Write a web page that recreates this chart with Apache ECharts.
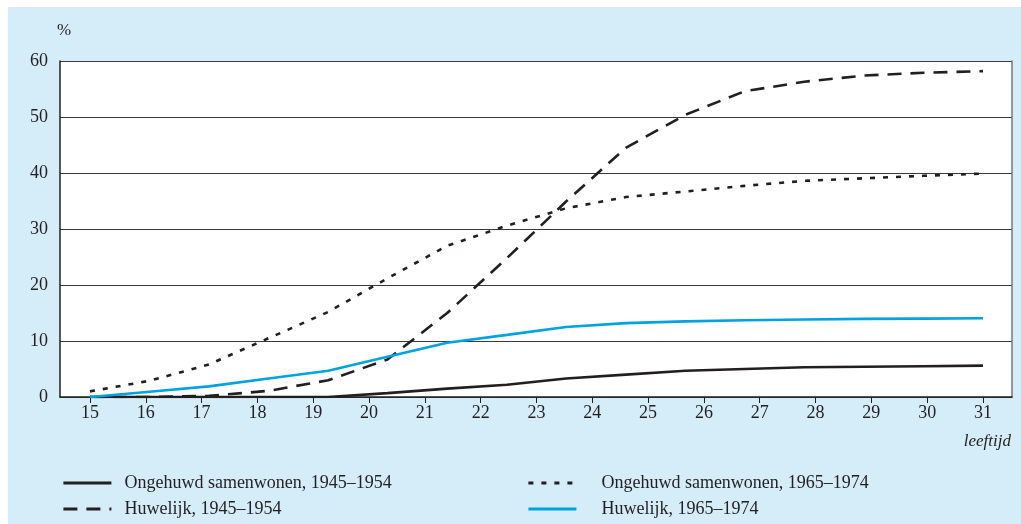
<!DOCTYPE html>
<html>
<head>
<meta charset="utf-8">
<script src="https://cdn.jsdelivr.net/npm/echarts@6/dist/echarts.min.js"></script>
<style>
  html, body { margin: 0; padding: 0; background: #fff; }
  #chart { width: 1021px; height: 524px; }
</style>
</head>
<body>
<div id="chart"></div>
<script>
// leeftijd (age) at which each value was read
const ages = [15, 16.07, 17.13, 18.2, 19.27, 20.33, 21.4, 22.47, 23.53, 24.6, 25.67, 26.73, 27.8, 28.87, 29.93, 31];
const xTicks = [15, 16, 17, 18, 19, 20, 21, 22, 23, 24, 25, 26, 27, 28, 29, 30, 31];

const samenwonen4554 = [0, 0, 0, 0, 0, 0.7, 1.5, 2.2, 3.3, 4.0, 4.7, 5.0, 5.3, 5.4, 5.5, 5.6];
const huwelijk4554 = [0, 0, 0.2, 1.1, 3.0, 6.7, 15.0, 24.8, 34.9, 44.5, 50.4, 54.6, 56.3, 57.4, 57.9, 58.2];
const samenwonen6574 = [1.0, 2.9, 5.8, 10.5, 15.2, 21.2, 27.0, 30.6, 33.7, 35.7, 36.7, 37.7, 38.6, 39.05, 39.5, 39.9];
const huwelijk6574 = [0, 0.95, 1.9, 3.3, 4.7, 7.2, 9.7, 11.1, 12.5, 13.2, 13.5, 13.7, 13.85, 13.95, 14.0, 14.05];

const names = [
  'Ongehuwd samenwonen, 1945–1954',
  'Huwelijk, 1945–1954',
  'Ongehuwd samenwonen, 1965–1974',
  'Huwelijk, 1965–1974',
];

const ink = '#231f20';
const blue = '#00a3e0';
const font = '"Liberation Serif", "DejaVu Serif", serif';

const pairs = (vals) => ages.map((a, i) => [a, vals[i]]);

const chart = echarts.init(document.getElementById('chart'));

const mkLine = (name, vals, color, type) => ({
  name: name,
  type: 'line',
  showSymbol: false,
  symbol: 'none',
  silent: true,
  lineStyle: { color: color, width: 2.6, type: type, cap: 'butt' },
  itemStyle: { color: color },
  data: pairs(vals),
});

// one legend per entry so each can sit where the original puts it
const mkLegend = (name, left, top, gap) => ({
  left: left,
  top: top,
  padding: 0,
  itemWidth: 48,
  itemHeight: 18,
  selectedMode: false,
  itemStyle: { opacity: 0, borderWidth: 0 },
  lineStyle: { width: 2.8 },
  textStyle: { fontFamily: font, fontSize: 18, color: ink, padding: [0, 0, 0, gap] },
  data: [name],
});

chart.setOption({
  animation: false,
  backgroundColor: '#fff',
  textStyle: { fontFamily: font },
  graphic: [
    {
      type: 'rect',
      z: -10,
      shape: { x: 8, y: 7, width: 1013, height: 517 },
      style: { fill: '#d5ecf9' },
    },
    {
      type: 'text',
      left: 57,
      top: 22,
      style: { text: '%', fill: ink, font: '17px ' + font },
    },
    {
      type: 'text',
      right: 10,
      top: 433,
      style: { text: 'leeftijd', fill: ink, font: 'italic 17px ' + font },
    },
  ],
  grid: {
    left: 60,
    top: 61,
    right: 9,
    bottom: 127,
    show: true,
    backgroundColor: '#fff',
    borderWidth: 0,
  },
  legend: [
    mkLegend(names[0], 62, 474, 8),
    mkLegend(names[1], 62, 500, 8),
    mkLegend(names[2], 527, 474, 20),
    mkLegend(names[3], 527, 500, 20),
  ],
  xAxis: {
    type: 'value',
    min: 14.4625,
    max: 31.52,
    axisLine: { lineStyle: { color: ink, width: 1.5 } },
    axisTick: {
      show: true,
      customValues: xTicks,
      length: 6,
      lineStyle: { color: ink, width: 1 },
    },
    axisLabel: {
      customValues: xTicks,
      color: ink,
      fontSize: 18,
      fontFamily: font,
      margin: 7,
    },
    splitLine: { show: false },
  },
  yAxis: [
    {
      type: 'value',
      min: 0,
      max: 60,
      interval: 10,
      axisLine: { show: true, lineStyle: { color: ink, width: 1.5 } },
      axisTick: { show: false },
      axisLabel: { color: ink, fontSize: 18, fontFamily: font, margin: 12 },
      splitLine: { lineStyle: { color: '#3a3a3a', width: 1 } },
    },
    {
      type: 'value',
      position: 'right',
      min: 0,
      max: 60,
      interval: 10,
      axisLine: { show: true, lineStyle: { color: '#777', width: 1.5 } },
      axisTick: { show: false },
      axisLabel: { show: false },
      splitLine: { show: false },
    },
  ],
  series: [
    mkLine(names[0], samenwonen4554, ink, 'solid'),
    mkLine(names[1], huwelijk4554, ink, [14, 9]),
    mkLine(names[2], samenwonen6574, ink, [5, 8]),
    mkLine(names[3], huwelijk6574, blue, 'solid'),
  ],
});
</script>
</body>
</html>
